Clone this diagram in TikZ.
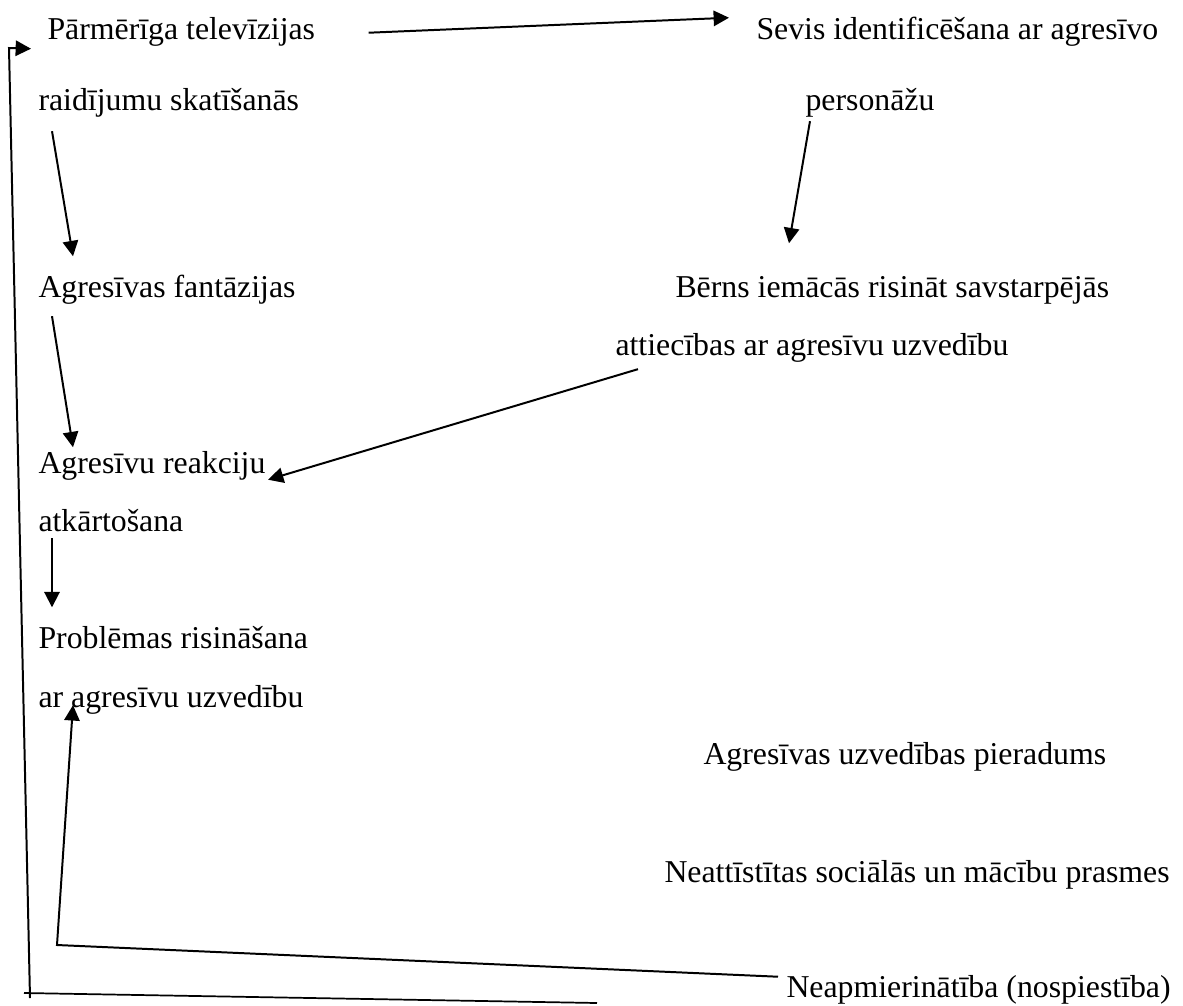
\documentclass[tikz,border=0pt]{standalone}
\usepackage{fontspec}
\setmainfont{Liberation Serif}
\usetikzlibrary{arrows.meta}
\def\unit{0.37736pt}
\tikzset{
    lbl/.style={inner sep=0pt, anchor=base west, text height=8pt, text depth=2.5pt,
        font=\fontsize{12}{14}\selectfont},
    arr/.style={line width=0.75pt, -{Triangle[length=5.8pt,width=5.8pt]}},
    ln/.style={line width=0.65pt}
}

\begin{document}
\begin{tikzpicture}[x=\unit, y=-\unit]
    \useasboundingbox (0,0) rectangle (1183,1005);

    \node[lbl] (tv1) at (47,39) {Pārmērīga televīzijas};
    \node[lbl] (tv2) at (38,110) {raidījumu skatīšanās};
    \node[lbl] (fant) at (38,297) {Agresīvas fantāzijas};
    \node[lbl] (reak1) at (38,473) {Agresīvu reakciju};
    \node[lbl] (reak2) at (38,531) {atkārtošana};
    \node[lbl] (probl1) at (38,648) {Problēmas risināšana};
    \node[lbl] (probl2) at (38,707) {ar agresīvu uzvedību};
    \node[lbl] (ident1) at (756,39) {Sevis identificēšana ar agresīvo};
    \node[lbl] (ident2) at (805,110) {personāžu};
    \node[lbl] (bern1) at (675,297) {Bērns iemācās risināt savstarpējās};
    \node[lbl] (bern2) at (615,355) {attiecības ar agresīvu uzvedību};
    \node[lbl] (ierad) at (703,764) {Agresīvas uzvedības pieradums};
    \node[lbl] (prasm) at (664,882) {Neattīstītas sociālās un mācību prasmes};
    \node[lbl] (neapm) at (786,997) {Neapmierinātība (nospiestība)};

    \coordinate (corner) at (57,945);
    \coordinate (loopend) at (597,1003);
    \coordinate (loopcorner) at (24,993);
    \coordinate (looptop) at (9,48);

    \draw[arr] ([shift={(53,1)}]tv1.east) -- ([shift={(-27,-14)}]ident1.west);
    \draw[arr] ([shift={(5,4)}]ident2.south west) -- ([shift={(114,-32)}]bern1.north west);
    \draw[arr] ([shift={(14,14)}]tv2.south west) -- ([shift={(35,-19)}]fant.north west);
    \draw[arr] ([shift={(14,12)}]fant.south west) -- ([shift={(35,-4)}]reak1.north west);
    \draw[arr] ([shift={(23,7)}]bern2.south west) -- ([shift={(2,14)}]reak1.east);
    \draw[arr] ([shift={(14,0)}]reak2.south west) -- ([shift={(14,-19)}]probl1.north west);
    \draw[arr] ([shift={(-8,-13)}]neapm.west) -- (corner) -- ([shift={(35,-9)}]probl2.south west);
    \draw[ln] (loopend) -- (loopcorner);
    \draw[arr] ([shift={(6,5)}]loopcorner) -- (looptop) -- ([shift={(-16,17)}]tv1.west);
\end{tikzpicture}
\end{document}
